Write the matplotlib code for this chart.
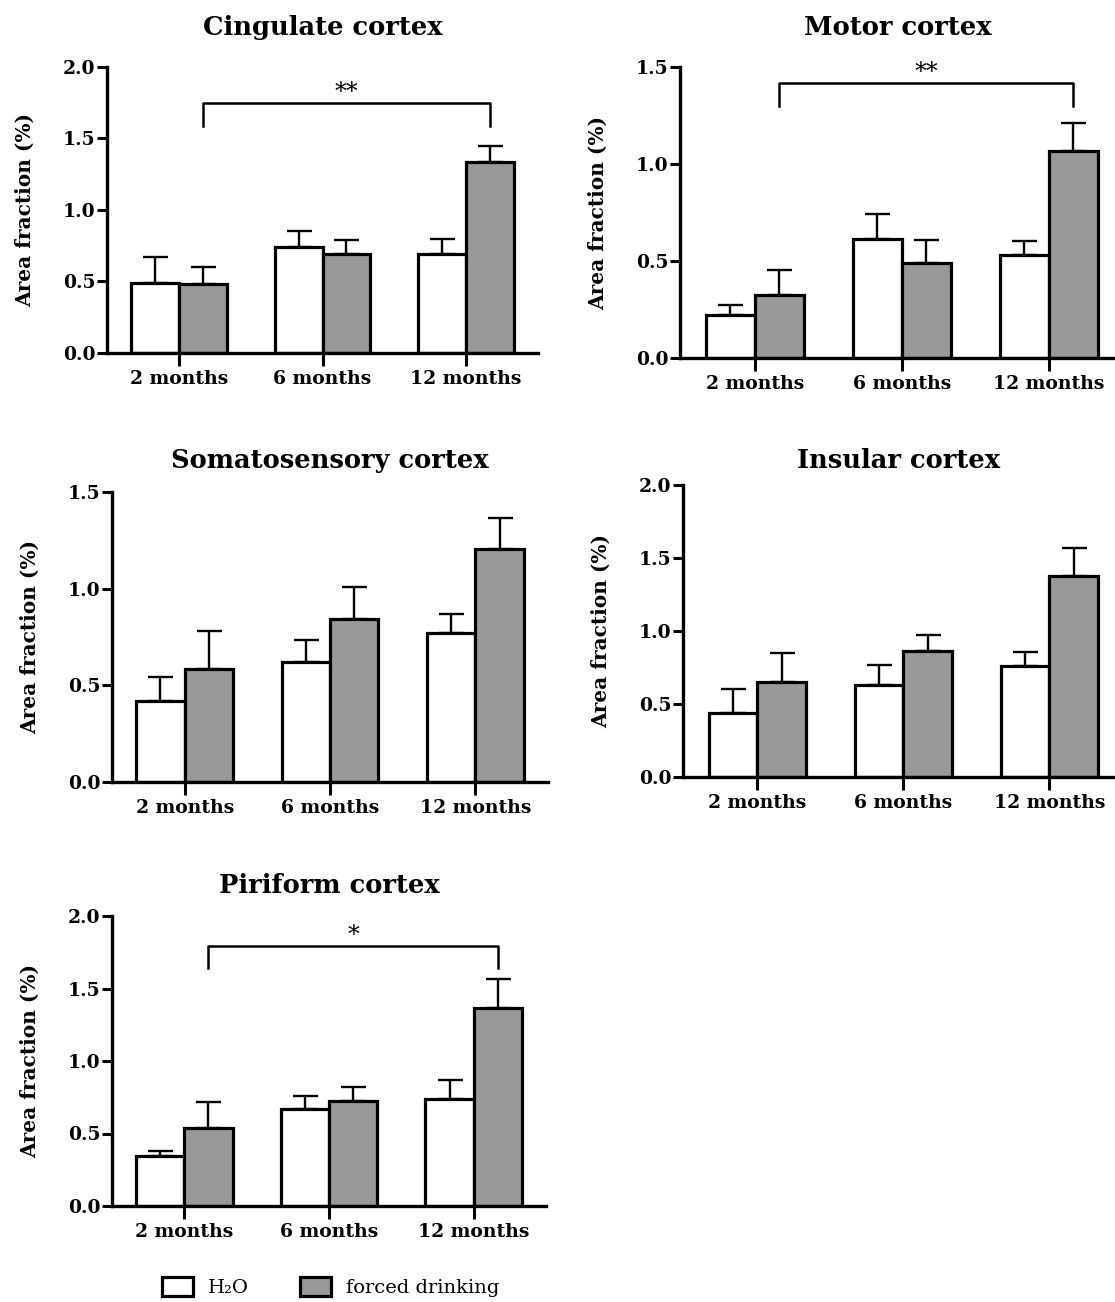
import matplotlib
matplotlib.use("Agg")
import matplotlib.pyplot as plt
from matplotlib.patches import Patch
import numpy as np

plt.rcParams['font.family'] = ['DejaVu Serif']

categories = ["2 months", "6 months", "12 months"]

cing_h2o = [0.49, 0.74, 0.69]
cing_h2o_err = [0.18, 0.11, 0.11]
cing_fd = [0.48, 0.69, 1.335]
cing_fd_err = [0.12, 0.10, 0.11]

motor_h2o = [0.223, 0.612, 0.531]
motor_h2o_err = [0.051, 0.13, 0.074]
motor_fd = [0.326, 0.492, 1.066]
motor_fd_err = [0.128, 0.117, 0.143]

soma_h2o = [0.42, 0.623, 0.772]
soma_h2o_err = [0.125, 0.11, 0.097]
soma_fd = [0.583, 0.845, 1.204]
soma_fd_err = [0.197, 0.165, 0.164]

insu_h2o = [0.436, 0.629, 0.757]
insu_h2o_err = [0.168, 0.14, 0.096]
insu_fd = [0.652, 0.86, 1.38]
insu_fd_err = [0.196, 0.111, 0.187]

piri_h2o = [0.343, 0.672, 0.736]
piri_h2o_err = [0.034, 0.085, 0.132]
piri_fd = [0.539, 0.723, 1.367]
piri_fd_err = [0.179, 0.099, 0.196]

titles = ["Cingulate cortex", "Motor cortex", "Somatosensory cortex",
          "Insular cortex", "Piriform cortex"]
ymax = [2.0, 1.5, 1.5, 2.0, 2.0]
yticks_list = [[0, 0.5, 1.0, 1.5, 2.0], [0, 0.5, 1.0, 1.5], [0, 0.5, 1.0, 1.5],
               [0, 0.5, 1.0, 1.5, 2.0], [0, 0.5, 1.0, 1.5, 2.0]]
# significance brackets: (y_bar, y_drop, label) or None
sig = [(1.75, 1.59, "**"), (1.418, 1.298, "**"), None, None, (1.793, 1.639, "*")]

legend_labels = ["H\u2082O", "forced drinking"]

data = [
    (cing_h2o, cing_h2o_err, cing_fd, cing_fd_err),
    (motor_h2o, motor_h2o_err, motor_fd, motor_fd_err),
    (soma_h2o, soma_h2o_err, soma_fd, soma_fd_err),
    (insu_h2o, insu_h2o_err, insu_fd, insu_fd_err),
    (piri_h2o, piri_h2o_err, piri_fd, piri_fd_err),
]

W, H = 1115, 1302
fig = plt.figure(figsize=(W / 100, H / 100), dpi=100)

# axes boxes in pixels: left, top, right, bottom
boxes = [(107, 67, 538, 353), (680, 67, 1115, 358), (112, 492, 548, 782),
         (683, 485, 1115, 777), (112, 916, 546, 1206)]
xlims = [(-0.5, 2.5), (-0.51, 2.45), (-0.5, 2.5), (-0.51, 2.45), (-0.5, 2.5)]
title_pads = [23, 23, 17, 12, 16.5]

grey = "#999999"
w = 0.333
lw = 2.3

for i, (h, he, f, fe) in enumerate(data):
    l, t, r, b = boxes[i]
    ax = fig.add_axes([l / W, 1 - b / H, (r - l) / W, (b - t) / H])
    x = np.arange(len(categories))
    ax.errorbar(x - w / 2, h, yerr=[np.zeros(3), he], fmt="none", ecolor="black",
                elinewidth=1.7, capsize=9, capthick=1.7, zorder=1)
    ax.errorbar(x + w / 2, f, yerr=[np.zeros(3), fe], fmt="none", ecolor="black",
                elinewidth=1.7, capsize=9, capthick=1.7, zorder=1)
    ax.bar(x - w / 2, h, width=w, color="white", edgecolor="black", linewidth=lw, zorder=2)
    ax.bar(x + w / 2, f, width=w, color=grey, edgecolor="black", linewidth=lw, zorder=2)
    ax.set_xlim(*xlims[i])
    ax.set_ylim(0, ymax[i])
    ax.set_yticks(yticks_list[i])
    ax.set_yticklabels([f"{v:.1f}" for v in yticks_list[i]])
    ax.set_xticks(x)
    ax.set_xticklabels(categories)
    for s in ["top", "right"]:
        ax.spines[s].set_visible(False)
    for s in ["left", "bottom"]:
        ax.spines[s].set_linewidth(2.4)
        ax.spines[s].set_zorder(3)
    ax.tick_params(axis="y", length=7.5, width=2.2, labelsize=13.5, pad=1)
    ax.tick_params(axis="x", length=9, width=2.2, labelsize=13.5, pad=3)
    for lab in ax.get_xticklabels() + ax.get_yticklabels():
        lab.set_fontweight("bold")
    ax.set_ylabel("Area fraction (%)", fontsize=14.5, fontweight="bold", labelpad=20)
    ax.set_title(titles[i], fontsize=18.5, fontweight="bold", pad=title_pads[i])
    if sig[i] is not None:
        yb, yd, txt = sig[i]
        x0, x1 = 0 + w / 2, 2 + w / 2
        ax.plot([x0, x0, x1, x1], [yd, yb, yb, yd], color="black", lw=1.8,
                clip_on=False, zorder=4)
        ax.text((x0 + x1) / 2, yb - 0.005 * ymax[i], txt, ha="center", va="bottom",
                fontsize=17)

handles = [Patch(facecolor="white", edgecolor="black", linewidth=2.3),
           Patch(facecolor=grey, edgecolor="black", linewidth=2.3)]
fig.legend(handles, legend_labels, loc="center left",
           bbox_to_anchor=(144 / W, 1 - 1287 / H), ncol=2, frameon=False,
           fontsize=14, handlelength=1.6, handleheight=1.15, columnspacing=2.6,
           handletextpad=0.8)

fig.savefig("out.png", dpi=100)
